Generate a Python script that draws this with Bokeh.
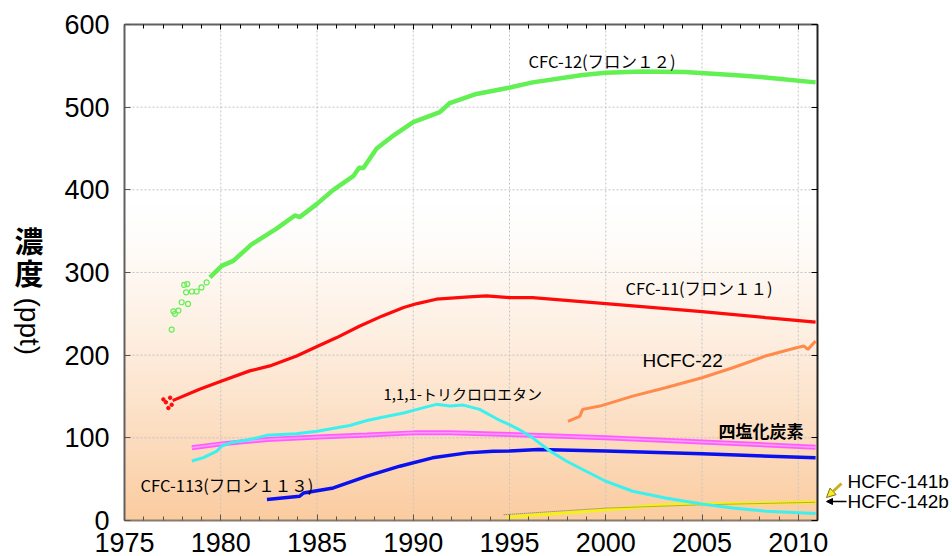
import numpy as np
from bokeh.plotting import figure
from bokeh.models import Range1d, FixedTicker, LinearAxis, Label, Arrow, NormalHead
from bokeh.embed import file_html
from bokeh.resources import INLINE

# ---------------- data ----------------
x_ticks = [1975, 1980, 1985, 1990, 1995, 2000, 2005, 2010]
y_ticks = [0, 100, 200, 300, 400, 500, 600]
x_minor = list(range(1975, 2012))

cfc12_early_year = [1977.45, 1977.54, 1977.62, 1977.8, 1977.97, 1978.1, 1978.2, 1978.26, 1978.3, 1978.5, 1978.75, 1979.0, 1979.27]
cfc12_early_val = [231, 253, 250, 254, 264, 285, 276, 286, 262, 277, 277, 282, 288]
cfc12_year = [1979.44, 1980.05, 1980.65, 1981.6, 1982.9, 1983.85, 1984.1, 1985.0, 1985.85, 1986.9, 1987.2, 1987.4,
              1988.1, 1988.87, 1990.0, 1991.38, 1991.9, 1993.28, 1994.97, 1996.2, 1998.8, 2000.0, 2001.9, 2004.1,
              2006.6, 2008.3, 2010.9]
cfc12_val = [294, 308, 314, 334, 353, 369, 367, 383, 400, 417, 427, 426, 450, 464, 482, 494, 505, 516, 523.5,
             530, 539, 541.7, 543, 542.5, 539, 536, 530]

cfc11_early_year = [1977.02, 1977.15, 1977.28, 1977.37, 1977.45]
cfc11_early_val = [146.5, 143, 136, 148.5, 140]
cfc11_year = [1977.5, 1978.9, 1980.05, 1981.5, 1982.55, 1983.94, 1985.06, 1986.0, 1987.2, 1988.4, 1989.5, 1990.2,
              1991.2, 1992.9, 1993.8, 1995.0, 1996.2, 2000.0, 2005.0, 2008.3, 2010.9]
cfc11_val = [145, 158.7, 168.7, 181, 187, 199, 211, 221, 235, 247.5, 257.6, 262.4, 267.7, 270.5, 271.8, 269.7,
             269.7, 262.4, 252.7, 245.5, 240]

tce_year = [1978.5, 1979.1, 1979.8, 1980.05, 1980.5, 1981.5, 1982.4, 1983.94, 1985.0, 1986.7, 1987.6, 1988.4,
            1989.5, 1990.3, 1991.2, 1991.9, 1992.6, 1993.45, 1994.5, 1995.0, 1995.5, 1996.2, 1997.1, 1997.95,
            1998.8, 2000.0, 2001.4, 2003.1, 2005.0, 2006.6, 2008.3, 2010.9]
tce_val = [72, 76, 84, 90, 94, 98, 103, 105, 108, 115, 121, 125, 130, 135, 140.5, 138.4, 139.6, 134.4, 121, 116,
           110, 100, 84, 72, 61.7, 47.5, 35.4, 27.3, 20, 15.2, 11.2, 8.4]

ccl4_year = [1978.5, 1980.05, 1982.4, 1985.06, 1987.6, 1990.05, 1991.9, 1995.0, 2000.0, 2005.0, 2010.9]
ccl4_val = [88, 92.7, 98, 101, 103.3, 106, 106, 104, 100, 95, 88.7]

cfc113_year = [1982.4, 1984.1, 1984.3, 1985.85, 1987.6, 1989.3, 1991.0, 1992.8, 1994.15, 1995.0, 1996.5, 2000.0,
               2005.0, 2010.9]
cfc113_val = [25.3, 29.3, 33.3, 39.4, 53.6, 65.7, 75.8, 81.8, 83.9, 84, 86, 84, 80.6, 75.8]

hcfc22_year = [1998.04, 1998.65, 1998.8, 1999.7, 2001.4, 2003.1, 2005.0, 2006.6, 2008.3, 2009.9, 2010.3, 2010.5, 2010.9]
hcfc22_val = [120, 126, 134.4, 138.4, 150.5, 160.6, 172.7, 184.8, 199, 209, 211, 207, 217]

hcfc141b_year = [1994.85, 2000.0, 2003.1, 2005.0, 2010.9]
hcfc141b_val = [3.9, 13, 19, 20, 22]

hcfc142b_year = [1994.7, 2000.0, 2005.0, 2010.9]
hcfc142b_val = [7, 15, 19, 22]

# ---------------- layout geometry ----------------
W, H = 952, 556
X0, X1, Y0, Y1 = 1975, 2011, 0, 600          # plotted data area
FL, FR, FT, FB = 124, 817, 24, 520            # its pixel box on the canvas
kx = (FR - FL) / (X1 - X0)
ky = (FB - FT) / (Y1 - Y0)
xr = Range1d(X0 - FL / kx, X0 + (W - FL) / kx)
yr = Range1d(Y0 - (H - FB) / ky, Y1 + FT / ky)

def px(cx, cy):
    """canvas pixel -> data coordinate (for placing annotations)"""
    return xr.start + cx / kx, yr.start + (H - cy) / ky

p = figure(width=W, height=H, x_range=xr, y_range=yr, output_backend="svg", toolbar_location=None,
           min_border=0, min_border_left=0, min_border_right=0, min_border_top=0, min_border_bottom=0)
p.outline_line_color = None
p.background_fill_color = "white"
p.border_fill_color = "white"
p.grid.visible = False

# background gradient (white at top -> peach at bottom)
nrows = 300
vals = np.linspace(Y0, Y1, nrows)
t = np.clip(1 - vals / 380.0, 0, 1) ** 1.3
top = np.array([255, 255, 255])
bot = np.array([251, 204, 160])
cols = top[None, :] * (1 - t[:, None]) + bot[None, :] * t[:, None]
img = np.empty((nrows, 2), dtype=np.uint32)
view = img.view(dtype=np.uint8).reshape((nrows, 2, 4))
view[:, :, 0] = cols[:, 0:1].astype(np.uint8)
view[:, :, 1] = cols[:, 1:2].astype(np.uint8)
view[:, :, 2] = cols[:, 2:3].astype(np.uint8)
view[:, :, 3] = 255
p.image_rgba(image=[img], x=X0, y=Y0, dw=X1 - X0, dh=Y1 - Y0)

# dotted grid lines
gx = x_ticks[1:]
p.segment(x0=gx, y0=[Y0] * len(gx), x1=gx, y1=[Y1] * len(gx), line_color="#c4c4c4", line_dash="2 2", line_width=1)
gy = y_ticks[1:-1]
p.segment(x0=[X0] * len(gy), y0=gy, x1=[X1] * len(gy), y1=gy, line_color="#c4c4c4", line_dash="2 2", line_width=1)

FONT = "Liberation Sans"
JP = "Noto Sans CJK JP"

# axes at fixed locations (box around the data area)
for ax in p.xaxis:
    ax.fixed_location = Y0
    ax.bounds = (X0, X1)
    ax.ticker = FixedTicker(ticks=x_ticks, minor_ticks=x_minor)
    ax.major_label_text_font = FONT
    ax.major_label_text_font_size = "27px"
    ax.major_label_text_color = "black"
    ax.major_label_standoff = 12
    ax.major_tick_in = 6
    ax.major_tick_out = 0
    ax.minor_tick_in = 4
    ax.minor_tick_out = 0
    ax.axis_line_color = "#8a7a6a"
    ax.axis_line_width = 2
    ax.major_tick_line_color = "#555555"
    ax.minor_tick_line_color = "#555555"
for ax in p.yaxis:
    ax.fixed_location = X0
    ax.bounds = (Y0, Y1)
    ax.ticker = FixedTicker(ticks=y_ticks, minor_ticks=[])
    ax.major_label_text_font = FONT
    ax.major_label_text_font_size = "27px"
    ax.major_label_text_color = "black"
    ax.major_label_standoff = 15
    ax.major_tick_in = 6
    ax.major_tick_out = 0
    ax.minor_tick_line_color = None
    ax.axis_line_color = "#606060"
    ax.axis_line_width = 2
    ax.major_tick_line_color = "#555555"

rax = LinearAxis(fixed_location=X1, bounds=(Y0, Y1),
                 ticker=FixedTicker(ticks=y_ticks, minor_ticks=[]), major_label_text_font_size="1px",
                 major_label_text_color=None,
                 major_tick_in=6, major_tick_out=0, minor_tick_line_color=None,
                 axis_line_color="#222222", axis_line_width=2, major_label_standoff=0)
p.add_layout(rax, "right")
tax = LinearAxis(fixed_location=Y1, bounds=(X0, X1),
                 ticker=FixedTicker(ticks=x_ticks, minor_ticks=x_minor),
                 major_label_text_font_size="1px", major_label_text_color=None,
                 major_tick_in=5, major_tick_out=0,
                 minor_tick_in=4, minor_tick_out=0, axis_line_color="#606060", axis_line_width=2,
                 major_label_standoff=0)
p.add_layout(tax, "above")

# ---------------- series ----------------
GREEN = "#62f052"
p.scatter(cfc12_early_year, cfc12_early_val, size=5, marker="circle", fill_color=None, line_color=GREEN, line_width=1.2)
p.line(cfc12_year, cfc12_val, line_color=GREEN, line_width=4.5)

RED = "#ff0a0a"
p.scatter(cfc11_early_year, cfc11_early_val, size=3.5, marker="circle", fill_color=RED, line_color=RED)
p.line(cfc11_year, cfc11_val, line_color=RED, line_width=3.2)

p.line(ccl4_year, ccl4_val, line_color="#ff5cff", line_width=5)
p.line(ccl4_year, ccl4_val, line_color="#ff9cff", line_width=1.5)

p.line(cfc113_year, cfc113_val, line_color="#0a10ee", line_width=3.5)

p.line(hcfc22_year, hcfc22_val, line_color="#ff8a4c", line_width=3)

p.line(hcfc141b_year, hcfc141b_val, line_color="#f4f020", line_width=3.5)
p.line(hcfc142b_year, hcfc142b_val, line_color="#7a6a60", line_width=1, line_dash="1 1")

p.line(tce_year, tce_val, line_color="#3cf0f0", line_width=3)

# ---------------- labels ----------------
def lab(cx, cy, text, size, font=JP, style="normal", align="left", angle=0):
    x, y = px(cx, cy)
    p.add_layout(Label(x=x, y=y, text=text, text_font=font, text_font_size=size,
                       text_font_style=style, text_align=align, text_baseline="middle", text_color="black",
                       angle=angle))

lab(528, 60, "CFC-12(フロン１２)", "16.5px")
lab(625, 287, "CFC-11(フロン１１)", "16.5px")
lab(642, 360, "HCFC-22", "19px", font=FONT)
lab(383, 393, "1,1,1-トリクロロエタン", "15px")
lab(718, 430, "四塩化炭素", "17px", style="bold")
lab(140, 484.5, "CFC-113(フロン１１３)", "16.5px")
lab(847, 480.5, "HCFC-141b", "19px", font=FONT)
lab(847, 500.5, "HCFC-142b", "19px", font=FONT)

# y axis title in vertical writing
lab(28.5, 239, "濃", "29px", style="bold", align="center")
lab(28.5, 271, "度", "29px", style="bold", align="center")
lab(28.5, 297, "(ppt)", "28px", font=FONT, angle=-np.pi / 2)

# pointer arrows for the HCFC labels
xs, ys = px(841, 483); xe, ye = px(826, 497)
p.add_layout(Arrow(end=NormalHead(size=9, fill_color="#f4f020", line_color="#807020", line_width=1),
                   x_start=xs, y_start=ys, x_end=xe, y_end=ye, line_color="#c8b020", line_width=3))
xs, ys = px(846, 501); xe, ye = px(826, 501)
p.add_layout(Arrow(end=NormalHead(size=6, fill_color="black", line_color="black"),
                   x_start=xs, y_start=ys, x_end=xe, y_end=ye, line_color="black", line_width=1.5))

open("out.html", "w").write(file_html(p, INLINE))
